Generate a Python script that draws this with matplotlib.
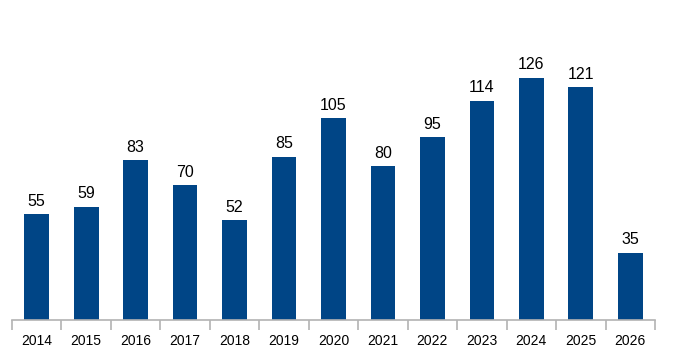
import matplotlib
matplotlib.use("Agg")
import matplotlib.pyplot as plt
import numpy as np

years = ["2014", "2015", "2016", "2017", "2018", "2019", "2020", "2021", "2022", "2023", "2024", "2025", "2026"]
values = [55, 59, 83, 70, 52, 85, 105, 80, 95, 114, 126, 121, 35]

plt.rcParams['font.family'] = ['Liberation Sans', 'DejaVu Sans']

fig = plt.figure(figsize=(6.77, 3.53), dpi=100)
ax = fig.add_axes([12/677, 33/353, (655-12)/677, 320/353])

x = np.arange(len(years))
bars = ax.bar(x, values, width=0.5, color="#004586")
for xi, v in zip(x, values):
    ax.annotate(str(v), (xi, v), xytext=(0, 4), textcoords="offset points",
                ha="center", va="bottom", fontsize=11.5, color="black")

ax.set_xlim(-0.5, len(years) - 0.5)
ax.set_ylim(0, 166.5)
ax.set_yticks([])
for s in ["top", "right", "left"]:
    ax.spines[s].set_visible(False)
ax.spines["bottom"].set_color("#b3b3b3")
ax.spines["bottom"].set_linewidth(1.2)

ax.set_xticks(x)
ax.set_xticklabels(years, fontsize=10)
ax.tick_params(axis="x", which="major", length=0, pad=10)
ax.set_xticks(np.arange(-0.5, len(years)), minor=True)
ax.tick_params(axis="x", which="minor", length=7, width=1.2, color="#b3b3b3")

fig.savefig("out.png", dpi=100)
